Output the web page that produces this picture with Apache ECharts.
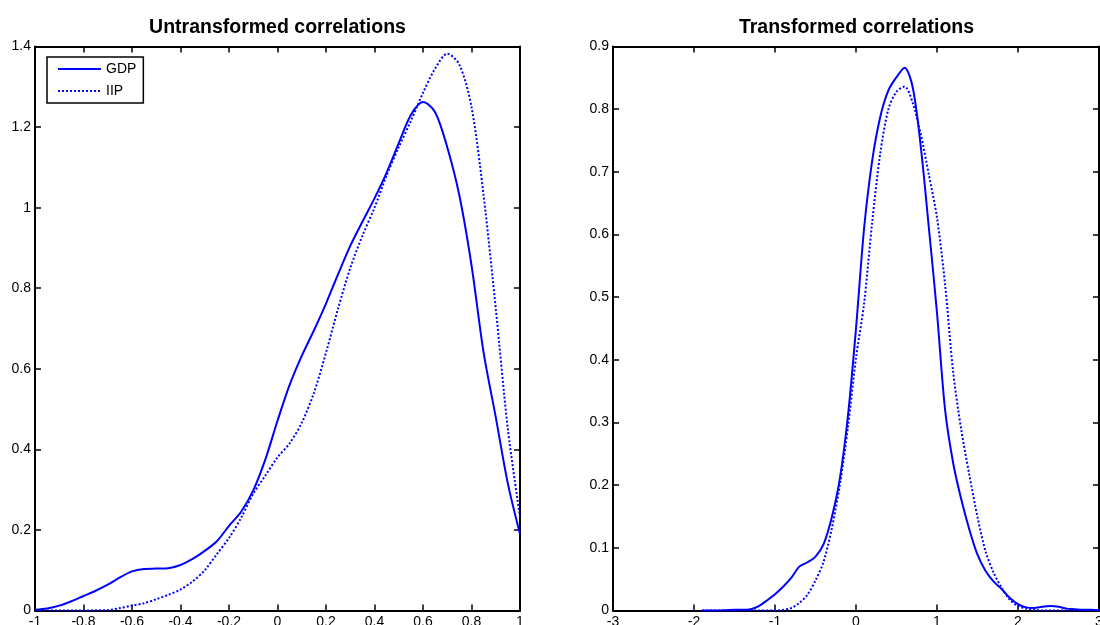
<!DOCTYPE html>
<html>
<head>
<meta charset="utf-8">
<script src="https://cdn.jsdelivr.net/npm/echarts@6/dist/echarts.min.js"></script>
<style>
html,body{margin:0;padding:0;background:#fff;}
#chart{width:1100px;height:625px;}
</style>
</head>
<body>
<div id="chart"></div>
<script>
// ---- Data ----
const titles = ['Untransformed correlations', 'Transformed correlations'];
const seriesNames = ['GDP', 'IIP'];

const leftX = [-1,-0.95,-0.9,-0.85,-0.8,-0.75,-0.7,-0.65,-0.6,-0.55,-0.5,-0.45,-0.4,-0.35,-0.3,-0.25,-0.2,-0.15,-0.1,-0.05,0,0.05,0.1,0.15,0.2,0.25,0.3,0.35,0.4,0.45,0.5,0.55,0.6,0.65,0.7,0.75,0.8,0.85,0.9,0.95,1];
const gdpLeft = [0.002,0.005,0.012,0.023,0.036,0.049,0.064,0.082,0.097,0.103,0.104,0.105,0.113,0.128,0.148,0.172,0.21,0.245,0.298,0.375,0.471,0.56,0.632,0.695,0.762,0.835,0.905,0.965,1.023,1.087,1.16,1.23,1.262,1.237,1.15,1.03,0.857,0.64,0.48,0.315,0.19];
const iipLeft = [0,0,0,0,0,0.0005,0.001,0.006,0.012,0.018,0.028,0.039,0.052,0.072,0.10,0.14,0.18,0.23,0.29,0.335,0.38,0.415,0.466,0.54,0.64,0.75,0.85,0.93,1.0,1.08,1.15,1.215,1.285,1.345,1.382,1.355,1.25,1.03,0.75,0.45,0.232];

const rightX = [-1.9,-1.8,-1.7,-1.6,-1.5,-1.4,-1.3,-1.2,-1.1,-1.0,-0.9,-0.8,-0.7,-0.6,-0.5,-0.4,-0.3,-0.2,-0.1,0,0.1,0.2,0.3,0.4,0.5,0.6,0.7,0.8,0.9,1.0,1.1,1.2,1.3,1.4,1.5,1.6,1.7,1.8,1.9,2.0,2.1,2.2,2.3,2.4,2.5,2.6,2.7,2.8,2.9,3.0];
const gdpRight = [0,0,0,0.0005,0.001,0.001,0.002,0.007,0.016,0.026,0.038,0.052,0.07,0.077,0.086,0.106,0.148,0.21,0.31,0.45,0.61,0.718,0.788,0.83,0.851,0.866,0.835,0.74,0.61,0.475,0.32,0.235,0.177,0.129,0.089,0.063,0.046,0.034,0.02,0.01,0.005,0.004,0.006,0.007,0.006,0.003,0.002,0.001,0.001,0.0005];
const iipRight = [0,0,0,0,0,0,0,0,0,0,0.001,0.004,0.012,0.025,0.048,0.078,0.13,0.2,0.292,0.403,0.49,0.62,0.73,0.80,0.828,0.836,0.81,0.76,0.695,0.627,0.52,0.38,0.288,0.216,0.149,0.094,0.06,0.036,0.017,0.007,0.003,0.001,0,0,0,0,0,0,0,0];

const leftXTicks = {min: -1, max: 1, interval: 0.2};
const leftYTicks = {min: 0, max: 1.4, interval: 0.2};
const rightXTicks = {min: -3, max: 3, interval: 1};
const rightYTicks = {min: 0, max: 0.9, interval: 0.1};

// ---- Styling / layout ----
const FONT = 'Liberation Sans, Arial, Helvetica, sans-serif';
const BLUE = '#0000ff';
const grids = [
  {left: 35, right: 580, top: 46.5, bottom: 14.5, outerBoundsMode: 'none', containLabel: false},
  {left: 613, right: 1, top: 46.5, bottom: 14.5, outerBoundsMode: 'none', containLabel: false}
];

function zip(xs, ys){ return xs.map((x,i)=>[x, ys[i]]); }

function axis(kind, gridIndex, ticks, position, showLabel){
  return {
    type: 'value', gridIndex, position,
    min: ticks.min, max: ticks.max, interval: ticks.interval,
    axisLine: {show: true, onZero: false, lineStyle: {color: '#000', width: 2}},
    axisTick: {show: true, inside: true, length: 6, lineStyle: {color: '#000', width: 1.5}},
    axisLabel: {show: showLabel, color: '#000', fontSize: 14, fontFamily: FONT, margin: kind === 'x' ? 5 : 4,
      showMinLabel: true, showMaxLabel: true, hideOverlap: false},
    splitLine: {show: false}
  };
}

const xAxes = [
  axis('x', 0, leftXTicks, 'bottom', true),
  axis('x', 0, leftXTicks, 'top', false),
  axis('x', 1, rightXTicks, 'bottom', true),
  axis('x', 1, rightXTicks, 'top', false)
];
const yAxes = [
  axis('y', 0, leftYTicks, 'left', true),
  axis('y', 0, leftYTicks, 'right', false),
  axis('y', 1, rightYTicks, 'left', true),
  axis('y', 1, rightYTicks, 'right', false)
];

function lineSeries(name, xs, ys, xi, yi, dotted){
  return {
    name, type: 'line', xAxisIndex: xi, yAxisIndex: yi,
    data: zip(xs, ys), showSymbol: false, symbol: 'none', smooth: 0.3,
    silent: true,
    lineStyle: {color: BLUE, width: 2, type: dotted ? [2, 2] : 'solid'},
    itemStyle: {color: BLUE}
  };
}

const titleStyle = {fontSize: 19.5, fontWeight: 'bold', color: '#000', fontFamily: FONT};

const option = {
  animation: false,
  backgroundColor: '#fff',
  title: [
    {text: titles[0], left: 277.5, top: 17.5, textAlign: 'center', padding: 0, textStyle: titleStyle},
    {text: titles[1], left: 856.5, top: 17.5, textAlign: 'center', padding: 0, textStyle: titleStyle}
  ],
  legend: {
    data: seriesNames, orient: 'vertical', left: 47, top: 57,
    padding: [5, 7, 5, 10], itemWidth: 43, itemHeight: 14, itemGap: 8,
    borderColor: '#000', borderWidth: 1.5, backgroundColor: '#fff',
    itemStyle: {opacity: 0},
    textStyle: {fontSize: 14, color: '#000', fontFamily: FONT},
    selectedMode: false
  },
  grid: grids,
  xAxis: xAxes,
  yAxis: yAxes,
  series: [
    lineSeries(seriesNames[0], leftX, gdpLeft, 0, 0, false),
    lineSeries(seriesNames[1], leftX, iipLeft, 0, 0, true),
    lineSeries(seriesNames[0], rightX, gdpRight, 2, 2, false),
    lineSeries(seriesNames[1], rightX, iipRight, 2, 2, true)
  ]
};

const chart = echarts.init(document.getElementById('chart'), null, {renderer: 'canvas'});
chart.setOption(option);
</script>
</body>
</html>
